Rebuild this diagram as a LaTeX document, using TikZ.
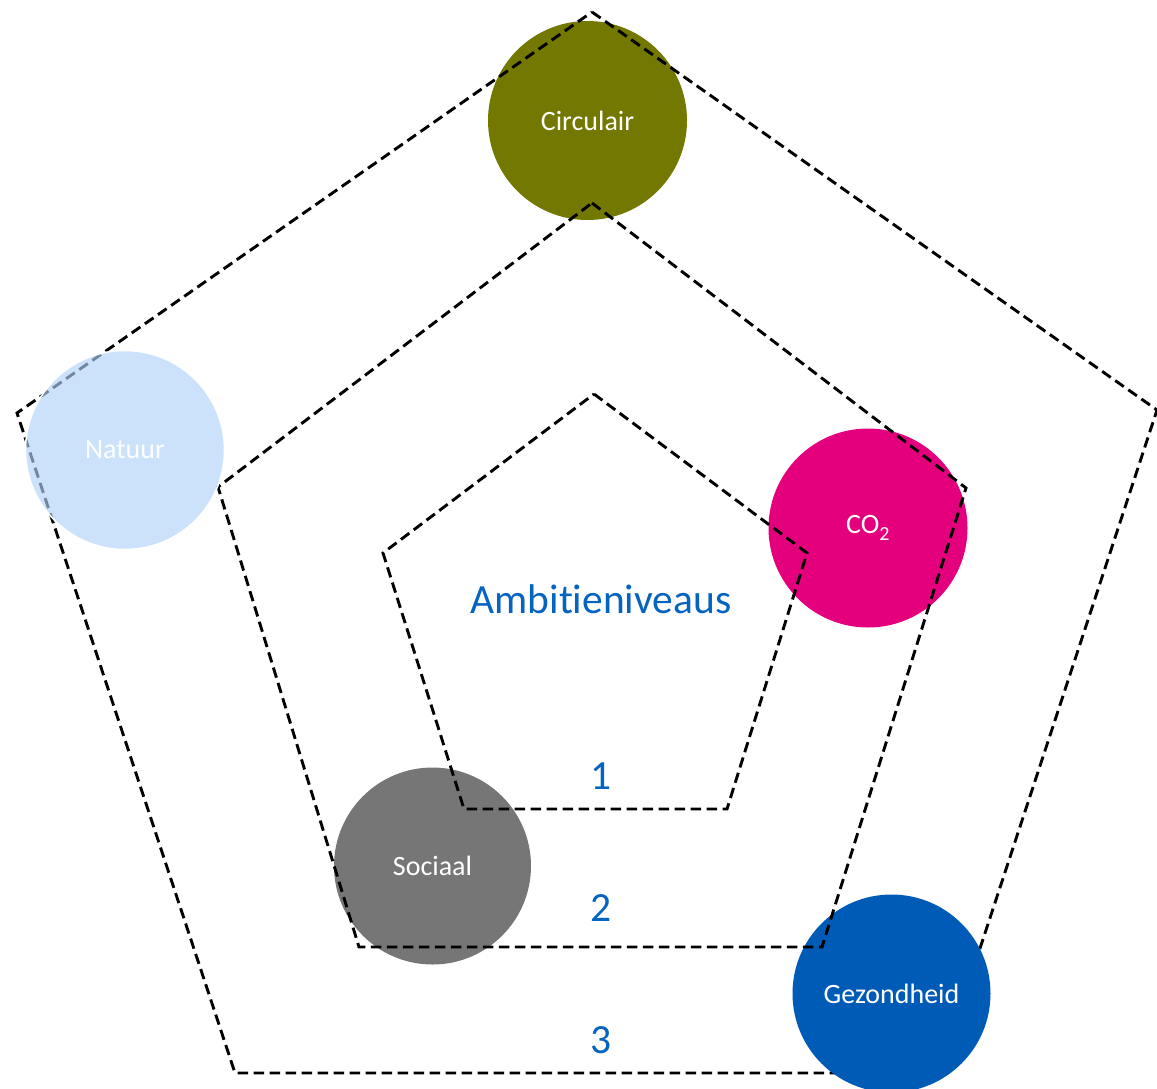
\documentclass[tikz,border=0pt]{standalone}
\usepackage{fontspec}
\setmainfont{Carlito}[Ligatures=NoCommon]
\definecolor{olivec}{RGB}{114,120,0}
\definecolor{magc}{RGB}{228,0,124}
\definecolor{greyc}{RGB}{118,118,118}
\definecolor{gezc}{RGB}{0,91,183}
\definecolor{natc}{RGB}{177,210,247}
\definecolor{ambblue}{RGB}{5,99,193}
\begin{document}
\begin{tikzpicture}[x=1pt,y=-1pt,
  circ/.style={circle, minimum size=199pt, inner sep=0pt, text=white,
    font=\fontsize{28}{33}\selectfont},
  ring/.style={draw=black, line width=2.9pt, dash pattern=on 10.5pt off 5.5pt, line join=miter},
  lbl/.style={text=ambblue, font=\fontsize{41.5}{50}\selectfont, anchor=base, inner sep=0pt}]
\useasboundingbox (0,0) rectangle (1157,1088);
% outer pentagon vertices
\coordinate (o1) at (592,12);
\coordinate (o2) at (1157,410);
\coordinate (o3) at (939,1073);
\coordinate (o4) at (235,1073);
\coordinate (o5) at (17,413);
% middle pentagon
\coordinate (m1) at (592,203);
\coordinate (m2) at (966,488);
\coordinate (m3) at (822,947);
\coordinate (m4) at (359,947);
\coordinate (m5) at (218,487);
% inner pentagon
\coordinate (i1) at (594,394);
\coordinate (i2) at (807,553);
\coordinate (i3) at (727,809);
\coordinate (i4) at (464,809);
\coordinate (i5) at (383,553);
% circles below the lines
\node[circ, fill=olivec] (circ) at (587.5,120.5) {Circulair};
\node[circ, fill=magc] (co2) at (868,528) {CO\textsubscript{\fontsize{20}{20}\selectfont\raisebox{-0.35ex}{2}}};
\node[circ, fill=greyc, minimum size=197pt] (soc) at (432.5,866) {Sociaal};
% outer pentagon
\draw[ring] (o1) -- (o2) -- (o3) -- (o4) -- (o5) -- cycle;
% circle above outer line
\node[circ, fill=gezc, minimum size=198pt] (gez) at (891.5,993.5) {Gezondheid};
% middle and inner pentagons
\draw[ring] (m1) -- (m2) -- (m3) -- (m4) -- (m5) -- cycle;
\draw[ring] (i1) -- (i2) -- (i3) -- (i4) -- (i5) -- cycle;
% semi-transparent Natuur circle
\node[circ, fill=natc, fill opacity=0.65, text opacity=1, draw=white, line width=1.5pt, text=white!96!natc] (nat) at (125,450) {Natuur};
% labels
\node[lbl] (amb) at (601,613) {Ambitieniveaus};
\node[lbl] (n1) at (601,789) {1};
\node[lbl] (n2) at (601,921) {2};
\node[lbl] (n3) at (601,1053) {3};
\end{tikzpicture}
\end{document}
